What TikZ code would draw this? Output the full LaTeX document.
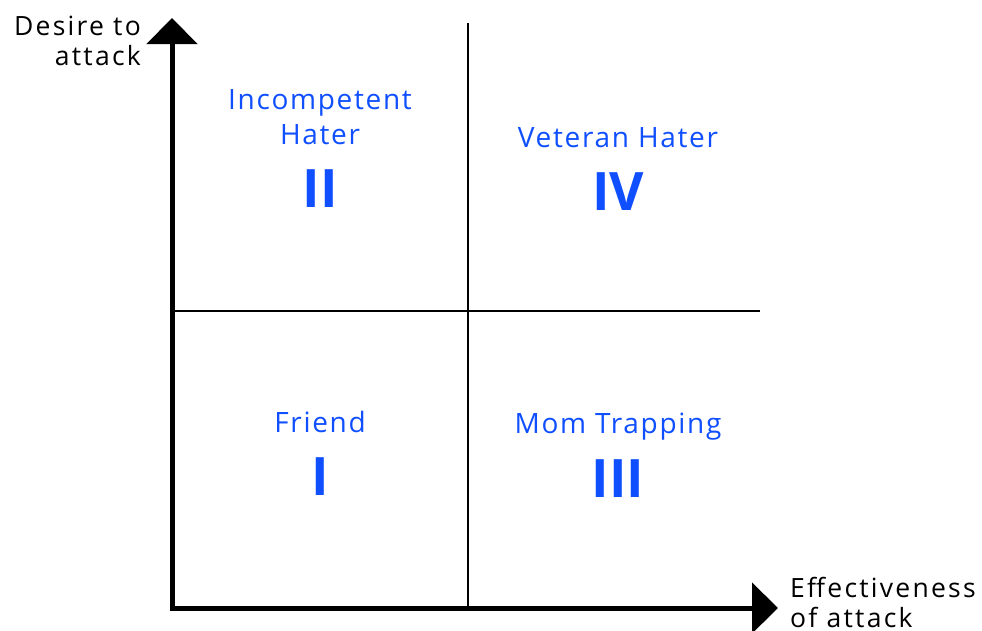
\documentclass[tikz,border=0pt]{standalone}
\usepackage{fontspec}
\setmainfont{Open Sans}
\newfontfamily\lblfont[LetterSpace=6]{Open Sans}
\newfontfamily\axfont[LetterSpace=8.5]{Open Sans}
\usetikzlibrary{arrows.meta}
\definecolor{qblue}{HTML}{0F4FFF}
\begin{document}
\begin{tikzpicture}[x=1pt,y=-1pt,
  axis/.style={line width=5pt,-{Triangle[length=26pt,width=50pt]}},
  divider/.style={line width=1.3pt},
  qlabel/.style={text=qblue,font=\lblfont\fontsize{28}{35}\selectfont,align=center,inner sep=0pt,anchor=base},
  qnum/.style={text=qblue,font=\fontsize{53}{60}\selectfont\bfseries,inner sep=0pt},
  axlabel/.style={font=\axfont\fontsize{26.5}{29.5}\selectfont,inner sep=0pt}]
\useasboundingbox (0,0) rectangle (982,630);
\coordinate (O) at (172,608);
\coordinate (ytip) at (172,18);
\coordinate (xtip) at (778,608);
\coordinate (vtop) at (468,23);
\coordinate (vbot) at (468,608);
\coordinate (hl) at (172,311);
\coordinate (hr) at (760,311);
\draw[divider] (vtop) -- (vbot);
\draw[divider] (hl) -- (hr);
\draw[axis] (O) -- (ytip);
\draw[axis] ([xshift=-2.5pt]O) -- (xtip);
\node[axlabel,align=right,anchor=base east] (ylab) at (141,65) {Desire to\\attack};
\node[axlabel,align=left,anchor=base west] (xlab) at (790,627) {Effectiveness\\of attack};
\node[qlabel] (q2t) at (320,144) {Incompetent\\Hater};
\node[qnum] (q2n) at (320,189) {II};
\node[qlabel] (q4t) at (618,147) {Veteran Hater};
\node[qnum] (q4n) at (618,192) {IV};
\node[qlabel] (q1t) at (320,432) {Friend};
\node[qnum] (q1n) at (320,477) {I};
\node[qlabel] (q3t) at (618,433) {Mom Trapping};
\node[qnum] (q3n) at (618,479) {III};
\end{tikzpicture}
\end{document}
